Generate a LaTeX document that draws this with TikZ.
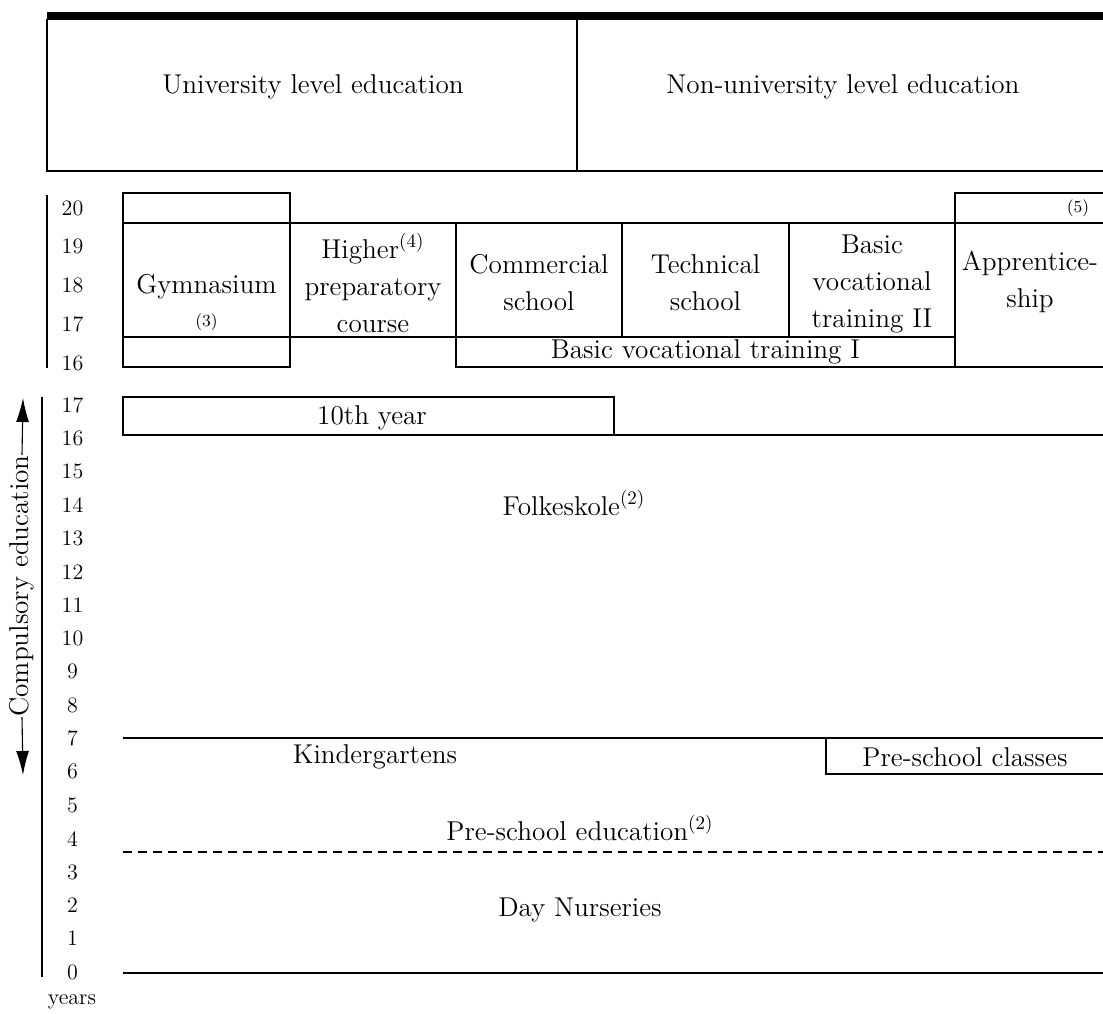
\documentclass[tikz,border=0pt]{standalone}
\usepackage{amsmath,amssymb}
\usepackage{tikz}
\usetikzlibrary{arrows.meta,positioning}

\begin{document}
\begin{tikzpicture}[
      x=0.5pt, y=-0.5pt,
      >={Latex[length=12pt,width=6.5pt]},
      line width=0.55pt,
      lbl/.style={inner sep=0pt, align=center, font=\fontsize{13.6}{18.5}\selectfont},
      age/.style={inner sep=0pt, font=\fontsize{11}{12}\selectfont},
      note/.style={inner sep=0pt, font=\fontsize{8.5}{9.6}\selectfont}
    ]
    \useasboundingbox (0,0) rectangle (1103,1013);

    % higher education band
    \fill (47,12) rectangle (1103,19.5);
    \draw (47,19) -- (47,171) -- (1103,171);
    \draw (577,19) -- (577,171);
    \node[lbl] (univ) at (313,87) {University level education};
    \node[lbl] (nonuniv) at (843,87) {Non-university level education};

    % upper secondary
    \draw (47,195) -- (47,368);
    \foreach \a/\y in {20/208,19/246.5,18/285.5,17/324.5,16/363}
      \node[age] (u\a) at (72.5,\y) {\a};
    \draw (123,193) rectangle (290,367);
    \draw (123,223) -- (1103,223);
    \draw (123,337) -- (955,337);
    \draw (456,223) -- (456,367) -- (1103,367);
    \draw (622,223) -- (622,337);
    \draw (789,223) -- (789,337);
    \draw (955,367) -- (955,193) -- (1103,193);
    \node[lbl] (gym) at (206.5,287) {Gymnasium};
    \node[note] (gymnote) at (206.5,322) {(3)};
    \node[lbl] (hpc) at (373,283) {Higher\textsuperscript{(4)}\\preparatory\\course};
    \node[lbl] (comm) at (539,283) {Commercial\\school};
    \node[lbl] (tech) at (705.5,283) {Technical\\school};
    \node[lbl] (bvt2) at (872,283.5) {Basic\\vocational\\training II};
    \node[lbl] (bvt1) at (705.5,352) {Basic vocational training I};
    \node[lbl] (appr) at (1030,282) {Apprentice-\\ship};
    \node[note] (apprnote) at (1078,208) {(5)};

    % compulsory and pre-school
    \draw (42,397) -- (42,977);
    \foreach \a in {0,...,17}
      \node[age] (l\a) at (72.5,{972-33.35*\a}) {\a};
    \node[age] (years) at (72,1002) {years};

    \draw (123,397) rectangle (614,435);
    \draw (614,435) -- (1103,435);
    \node[lbl] (tenth) at (372,418) {10th year};
    \node[lbl] (folk) at (574,503) {Folkeskole\textsuperscript{(2)}};

    \draw (123,738) -- (1103,738);
    \draw (1103,774) -- (826,774) -- (826,738);
    \node[lbl] (kinder) at (375,757) {Kindergartens};
    \node[lbl] (psclass) at (965,757) {Pre-school classes};

    \node[lbl] (psedu) at (580,828) {Pre-school education\textsuperscript{(2)}};
    \draw[dash pattern=on 4.5pt off 3pt] (123,852) -- (1103,852);
    \node[lbl] (nursery) at (580,910) {Day Nurseries};
    \draw (123,973) -- (1103,973);

    \node[lbl, rotate=90] (comp) at (22,586) {Compulsory education};
    \coordinate (comptop) at (23,398);
    \coordinate (compbot) at (23,775);
    \draw[->] (comp.east) -- (comptop);
    \draw[->] (comp.west) -- (compbot);
  \end{tikzpicture}
\end{document}
